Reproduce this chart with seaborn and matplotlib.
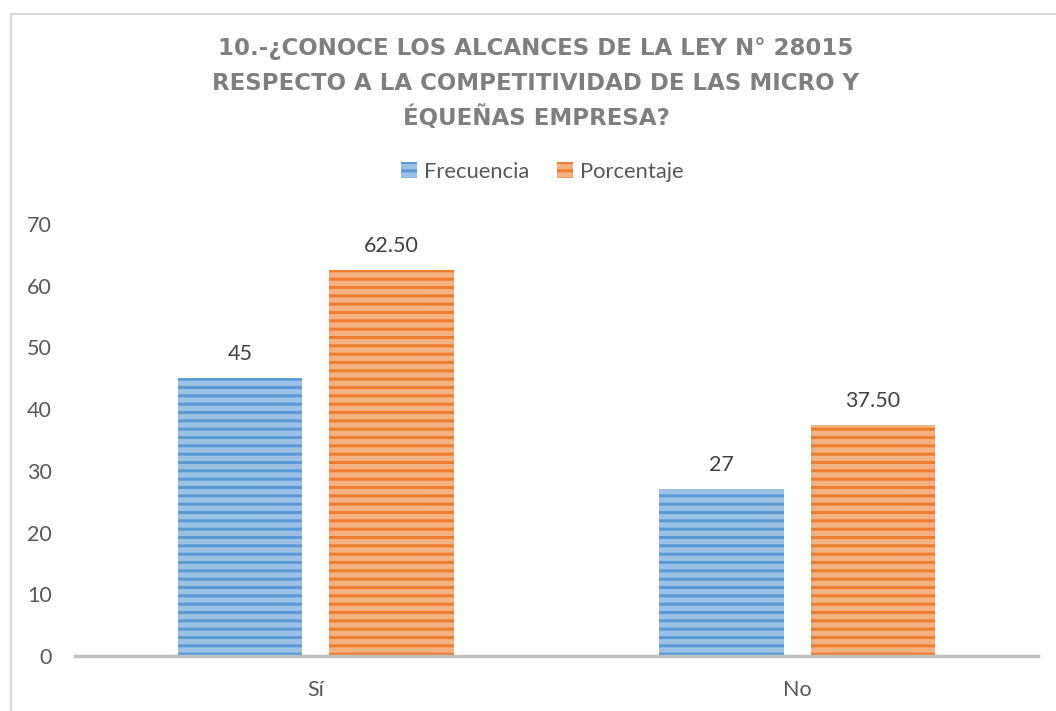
import matplotlib
matplotlib.use("Agg")
import matplotlib.pyplot as plt
from matplotlib.patches import Patch
from matplotlib.lines import Line2D
import seaborn as sns
import pandas as pd

categories = ["Sí", "No"]
series = ["Frecuencia", "Porcentaje"]
frecuencia = [45, 27]
porcentaje = [62.50, 37.50]
yticks = [0, 10, 20, 30, 40, 50, 60, 70]
title_lines = ["10.-¿CONOCE LOS ALCANCES DE LA LEY N° 28015",
               "RESPECTO A LA COMPETITIVIDAD DE LAS MICRO Y",
               "ÉQUEÑAS EMPRESA?"]

face = {"Frecuencia": "#9CC2E5", "Porcentaje": "#F4B183"}
hatchc = {"Frecuencia": "#5B9BD5", "Porcentaje": "#ED7D31"}

df = pd.DataFrame({
    "cat": categories * 2,
    "serie": [series[0]] * 2 + [series[1]] * 2,
    "val": frecuencia + porcentaje,
})

sns.set_theme(style="white")
plt.rcParams["font.family"] = ["Lato", "DejaVu Sans"]
plt.rcParams["hatch.linewidth"] = 2.2

fig = plt.figure(figsize=(10.56, 7.11), dpi=100)
ax = fig.add_axes([75/1056, 1-656/711, (1038-75)/1056, (656-224)/711])

sns.barplot(data=df, x="cat", y="val", hue="serie", order=categories,
            hue_order=series, palette=face, width=0.63, gap=0.18,
            ax=ax, legend=False, saturation=1)

for cont, s in zip(ax.containers, series):
    for p in cont:
        p.set_facecolor(face[s])
        p.set_edgecolor(hatchc[s])
        p.set_hatch("--")
        p.set_linewidth(0)
    fmt = "{:.0f}" if s == "Frecuencia" else "{:.2f}"
    ax.bar_label(cont, labels=[fmt.format(v) for v in cont.datavalues],
                 padding=10, fontsize=15.5, color="#404040")

ax.set_ylim(0, 70)
ax.set_xlim(-0.5, 1.5)
ax.set_yticks(yticks)
ax.set_xlabel("")
ax.set_ylabel("")
ax.tick_params(axis="y", length=0, pad=16.5, labelsize=15.5, labelcolor="#595959")
ax.tick_params(axis="x", length=0, pad=17, labelsize=15.5, labelcolor="#595959")
for side in ["top", "right", "left"]:
    ax.spines[side].set_visible(False)
ax.spines["bottom"].set_color("#BFBFBF")
ax.spines["bottom"].set_linewidth(2.5)
ax.grid(False)

cx = 536/1056
for i, line in enumerate(title_lines):
    fig.text(cx, 1 - (48 + i*35)/711, line, ha="center", va="center",
             fontsize=16.5, fontweight="bold", color="#7F7F7F",
             family=["DejaVu Sans"])

handles = [Patch(facecolor=face[s], edgecolor=hatchc[s], hatch="--", linewidth=0, label=s)
           for s in series]
fig.legend(handles=handles, loc="center", bbox_to_anchor=(542/1056, 1-172/711),
           ncol=2, frameon=False, fontsize=15.8, labelcolor="#595959",
           handlelength=0.75, handleheight=0.75, handletextpad=0.3, columnspacing=1.25)

fig.add_artist(Line2D([10.5/1056, 10.5/1056], [0, 1-13.5/711], color="#D9D9D9", lw=1.5))
fig.add_artist(Line2D([10.5/1056, 1], [1-13.5/711, 1-13.5/711], color="#D9D9D9", lw=1.5))

fig.savefig("out.png", dpi=100)
